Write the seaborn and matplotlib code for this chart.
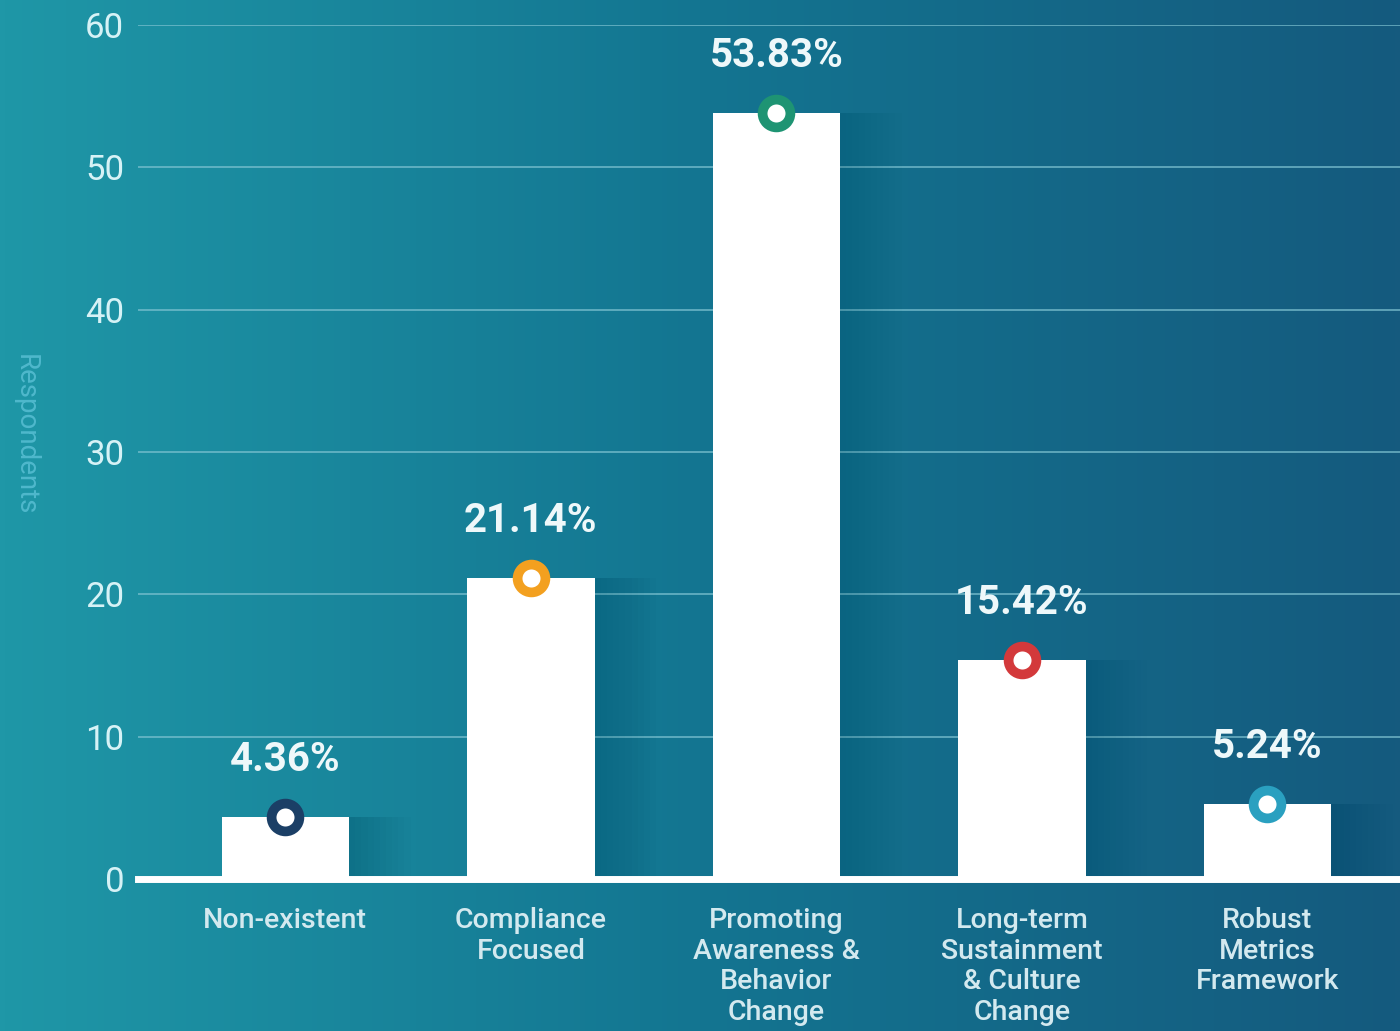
import numpy as np
import pandas as pd
import matplotlib.pyplot as plt
import seaborn as sns
from matplotlib.colors import LinearSegmentedColormap

# data
categories = ['Non-existent', 'Compliance\nFocused', 'Promoting\nAwareness &\nBehavior\nChange',
              'Long-term\nSustainment\n& Culture\nChange', 'Robust\nMetrics\nFramework']
values = [4.36, 21.14, 53.83, 15.42, 5.24]
labels = ['4.36%', '21.14%', '53.83%', '15.42%', '5.24%']
marker_colors = ['#1b3f66', '#f3a01f', '#1e9473', '#d3393b', '#2aa0c0']
y_ticks = [0, 10, 20, 30, 40, 50, 60]

df = pd.DataFrame({'category': categories, 'value': values})

sns.set_style('white')
plt.rcParams['font.family'] = ['Roboto', 'DejaVu Sans']

fig = plt.figure(figsize=(14, 10.31), dpi=100)

# background gradient
bg = fig.add_axes([0, 0, 1, 1], zorder=-10)
grad_cmap = LinearSegmentedColormap.from_list('bg', ['#1f97a7', '#137591', '#155a7e'])
bg.imshow(np.linspace(0, 1, 256).reshape(1, -1), aspect='auto', cmap=grad_cmap,
          extent=[0, 1, 0, 1])
bg.axis('off')

ax = fig.add_axes([0.0986, 0.1474, 0.9014, 0.8284])
ax.patch.set_alpha(0)

# soft shadows to the right of the bars
for k in range(10):
    for i, v in enumerate(values):
        ax.bar(i + 0.025 * (k + 1), v, width=0.52, color='#0a2f4a', alpha=0.014,
               zorder=1, linewidth=0)

sns.barplot(data=df, x='category', y='value', color='white', width=0.52,
            saturation=1, ax=ax, zorder=3, linewidth=0)

for i, v in enumerate(values):
    ax.plot(i, v, 'o', ms=20, mfc='white', mec=marker_colors[i], mew=7, zorder=5, clip_on=False)
    ax.annotate(labels[i], (i, v), xytext=(0, 41), textcoords='offset points',
                ha='center', va='center', fontsize=29, fontweight='semibold', color='#eef8fa', zorder=6)

ax.set_xlim(-0.6, 4.54)
ax.set_ylim(0, 60)
ax.set_yticks(y_ticks)
ax.grid(axis='y', color='#7fc3d2', linewidth=1.2, alpha=0.8, zorder=0)
ax.grid(axis='x', visible=False)
for s in ['top', 'right', 'left']:
    ax.spines[s].set_visible(False)
ax.spines['bottom'].set_color('white')
ax.spines['bottom'].set_linewidth(5)
ax.spines['bottom'].set_zorder(4)

ax.tick_params(axis='y', length=0, pad=10, labelsize=25, labelcolor='#d6f2f6')
ax.tick_params(axis='x', length=0, pad=20, labelsize=20.5, labelcolor='#d3e9ef')
for t in ax.get_xticklabels():
    t.set_linespacing(1.18)
    t.set_fontweight('medium')
    t.set_va('top')
    t.set_ha('center')

ax.set_xlabel('')
ax.set_ylabel('Respondents', rotation=270, color='#4fb8cc', fontsize=20, labelpad=58)
ax.yaxis.set_label_coords(-0.1, 0.52)

fig.savefig('out.png', dpi=100)
